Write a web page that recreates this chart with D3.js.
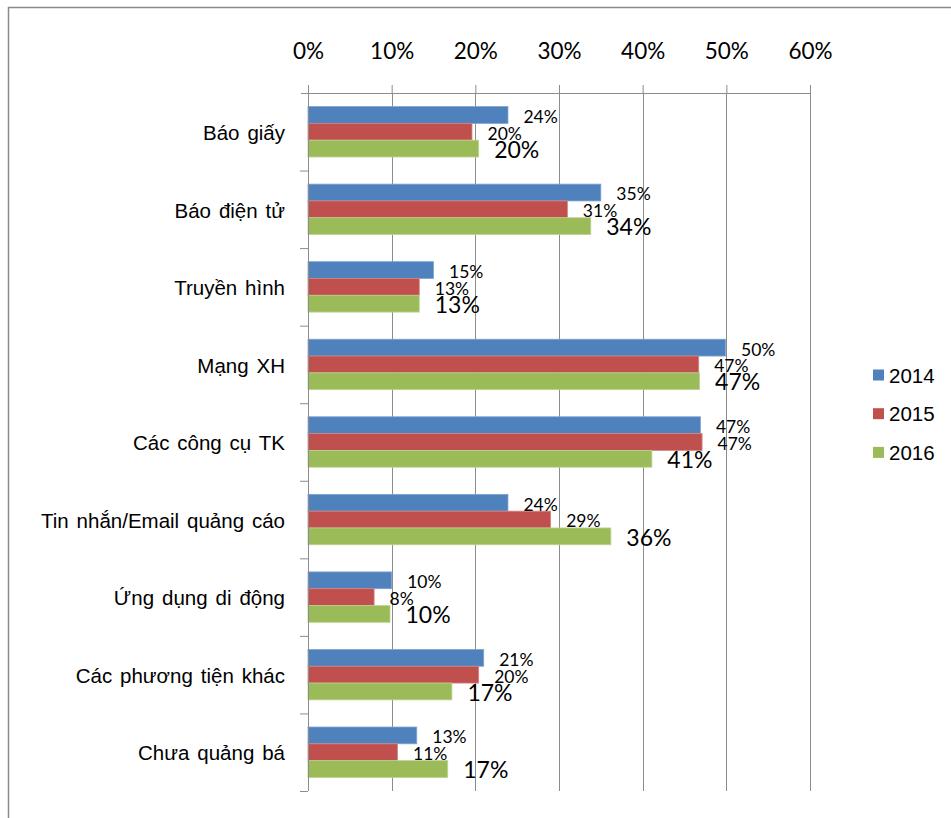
<!DOCTYPE html>
<html>
<head>
<meta charset="utf-8">
<script src="https://cdn.jsdelivr.net/npm/d3@7"></script>
<style>
  html, body { margin: 0; padding: 0; background: #fff; }
  svg { display: block; }
</style>
</head>
<body>
<svg id="chart" width="951" height="818"></svg>
<script>
// Kênh quảng bá theo năm (%)
const categories = [
  "Báo giấy",
  "Báo điện tử",
  "Truyền hình",
  "Mạng XH",
  "Các công cụ TK",
  "Tin nhắn/Email quảng cáo",
  "Ứng dụng di động",
  "Các phương tiện khác",
  "Chưa quảng bá"
];
const years = ["2014", "2015", "2016"];
const values2014 = [23.9, 35.0, 15.0, 49.9, 46.9, 23.9, 10.0, 21.0, 13.0];
const values2015 = [19.6, 31.0, 13.3, 46.7, 47.1, 29.0, 7.9, 20.4, 10.7];
const values2016 = [20.4, 33.8, 13.3, 46.8, 41.1, 36.2, 9.8, 17.2, 16.7];
const tickValues = [0, 10, 20, 30, 40, 50, 60];
const tickLabels = ["0%", "10%", "20%", "30%", "40%", "50%", "60%"];

const seriesValues = [values2014, values2015, values2016];
const colors = ["#4F81BD", "#C0504D", "#9BBB59"];
const strokes = ["#7fa3d3", "#d58482", "#bdd38f"];

const svg = d3.select("#chart");
const plot = { left: 308, right: 810, top: 93, bottom: 791 };
const gridColor = "#8c8c8c";

// outer frame
svg.append("rect")
  .attr("x", 8.5).attr("y", 7.5)
  .attr("width", 960).attr("height", 830)
  .attr("fill", "none")
  .attr("stroke", "#8a8a8a")
  .attr("stroke-width", 1.5);

const x = d3.scaleLinear().domain([0, 60]).range([plot.left, plot.right]);
const y = d3.scaleBand().domain(categories).range([plot.top, plot.bottom]).paddingInner(0.35).paddingOuter(0.175);
const yEdges = d3.scaleLinear().domain([0, categories.length]).range([plot.top, plot.bottom]);
const yInner = d3.scaleBand().domain(years).range([0, y.bandwidth()]);

// vertical gridlines
svg.append("g")
  .attr("transform", `translate(0,${plot.top})`)
  .call(d3.axisBottom(x).tickValues(tickValues.slice(1)).tickSize(plot.bottom - plot.top).tickFormat(""))
  .call(g => g.select(".domain").remove())
  .call(g => g.selectAll("line").attr("stroke", gridColor).attr("shape-rendering", "crispEdges"));

// bars
const groups = svg.append("g").selectAll("g")
  .data(categories)
  .join("g")
  .attr("transform", d => `translate(0,${y(d)})`);

years.forEach((yr, si) => {
  groups.append("rect")
    .attr("x", x(0))
    .attr("y", yInner(yr))
    .attr("width", (d, i) => x(seriesValues[si][i]) - x(0))
    .attr("height", yInner.bandwidth())
    .attr("fill", colors[si])
    .attr("stroke", strokes[si])
    .attr("stroke-width", 0.8);
});

// value labels
years.forEach((yr, si) => {
  const big = si === 2;
  groups.append("text")
    .attr("x", (d, i) => x(seriesValues[si][i]) + 15.5)
    .attr("y", yInner(yr) + yInner.bandwidth() / 2)
    .attr("dy", big ? "0.4em" : "0.45em")
    .attr("font-family", "Lato, 'Open Sans', sans-serif")
    .attr("font-size", big ? 23 : 17.5)
    .attr("fill", "#000")
    .text((d, i) => Math.round(seriesValues[si][i]) + "%");
});

// top value axis
svg.append("g")
  .attr("transform", `translate(0,${plot.top})`)
  .call(d3.axisTop(x).tickValues(tickValues).tickSize(8).tickPadding(26)
    .tickFormat((d, i) => tickLabels[i]))
  .call(g => g.select(".domain").attr("stroke", gridColor).attr("d", `M${plot.left - 7},0.5H${plot.right}`))
  .call(g => g.selectAll("line").attr("stroke", gridColor))
  .call(g => g.selectAll("text")
    .attr("font-family", "Lato, 'Open Sans', sans-serif")
    .attr("font-size", 22.5)
    .attr("fill", "#000"));

// category axis with ticks between categories
svg.append("g")
  .attr("transform", `translate(${plot.left},0)`)
  .call(d3.axisLeft(yEdges).tickValues(d3.range(1, categories.length + 1)).tickSize(8).tickFormat(""))
  .call(g => g.select(".domain").attr("stroke", gridColor).attr("d", `M0.5,${plot.top}V${plot.bottom}`))
  .call(g => g.selectAll("line").attr("stroke", gridColor));

svg.append("g")
  .attr("transform", `translate(${plot.left},0)`)
  .call(d3.axisLeft(y).tickSize(0).tickPadding(23))
  .call(g => g.select(".domain").remove())
  .call(g => g.selectAll("text")
    .attr("font-family", "'Liberation Sans', Arial, sans-serif")
    .attr("font-size", 20.5)
    .attr("word-spacing", "2.2px")
    .attr("dy", "0.4em")
    .attr("fill", "#000"));

// legend
const legend = svg.append("g").attr("transform", "translate(873,375)");
years.forEach((yr, i) => {
  const row = legend.append("g").attr("transform", `translate(0,${i * 38.7})`);
  row.append("rect").attr("x", 0).attr("y", -5.5).attr("width", 11).attr("height", 11).attr("fill", colors[i]);
  row.append("text")
    .attr("x", 16).attr("y", 7.5)
    .attr("font-family", "'Liberation Sans', Arial, sans-serif")
    .attr("font-size", 20.5)
    .attr("fill", "#000")
    .text(yr);
});
</script>
</body>
</html>
